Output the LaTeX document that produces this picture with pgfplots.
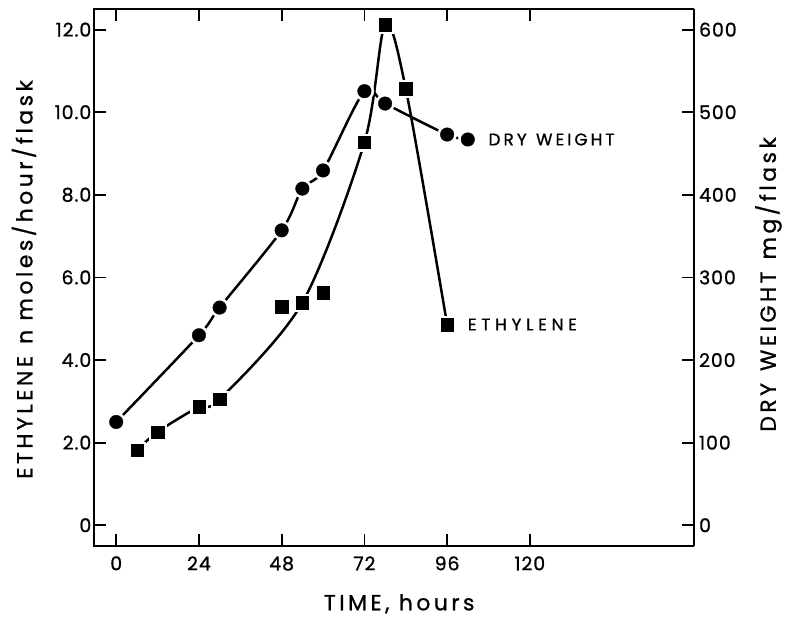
\documentclass[border=0pt]{standalone}
\usepackage{fontspec}
\setmainfont{Poppins}
\newfontfamily\lab[LetterSpace=16, FakeBold=1]{Poppins}
\newfontfamily\labdry[LetterSpace=18, FakeBold=1]{Poppins}
\newfontfamily\labeth[LetterSpace=28, FakeBold=1]{Poppins}
\newfontfamily\ticklabfont[LetterSpace=5, FakeBold=1]{Poppins}
\newcommand\wsp{\hspace{0.55em}}
\usepackage{pgfplots}
\usepackage{pgfplotstable}
\pgfplotsset{compat=1.18}

\pgfplotstableread{
t v
0 2.50
24 4.60
30 5.27
48 7.14
54 8.15
60 8.59
72 10.51
78 10.21
96 9.46
102 9.34
}\dry

\pgfplotstableread{
t v
6 1.81
12 2.26
24 2.87
30 3.05
48 5.29
54 5.39
60 5.63
72 9.27
78 12.12
84 10.57
96 4.86
}\eth

\pgfplotstableread{
t v
6 1.81
12 2.26
24 2.87
30 3.05
54 5.39
72 9.27
78 12.12
84 10.57
96 4.86
}\ethline

\begin{document}
\begin{tikzpicture}
\path (-94bp,-72bp) rectangle (691bp,547bp);
\begin{axis}[
  at={(0,0)}, anchor=south west,
  scale only axis, width=601bp, height=538bp,
  xmin=-6.5, xmax=167.5, ymin=-0.5, ymax=12.5,
  xtick={0,24,48,72,96,120},
  xtick pos=both, xticklabel pos=bottom,
  ytick={0,2,4,6,8,10,12},
  yticklabels={0,2.0,4.0,6.0,8.0,10.0,12.0},
  ytick pos=left,
  tick align=inside,
  major tick length=12bp,
  axis line style={line width=1.8bp},
  every tick/.style={line width=1.8bp, black},
  ticklabel style={font=\fontsize{19}{19}\selectfont\ticklabfont},
  /pgf/number format/assume math mode=true,
  xticklabel style={yshift=-7bp},
  yticklabel style={xshift=1bp},
  clip=false,
]
\addplot[line width=2.5bp, smooth, tension=0.5] table {\dry};
\addplot[line width=2.5bp, smooth, tension=0.5] table {\ethline};
\addplot[only marks, mark=*, mark size=9.5bp, white] table {\dry};
\addplot[only marks, mark=square*, mark size=8.5bp, white] table {\eth};
\addplot[only marks, mark=*, mark size=6.8bp, black] table {\dry};
\addplot[only marks, mark=square*, mark size=6.2bp, black] table {\eth};
\node[anchor=west, font=\fontsize{17}{17}\selectfont\labdry] at (axis cs:107.0,9.34) {DRY\wsp WEIGHT};
\node[anchor=west, font=\fontsize{17}{17}\selectfont\labeth] at (axis cs:101.0,4.86) {ETHYLENE};
\end{axis}
\begin{axis}[
  at={(0,0)}, anchor=south west,
  scale only axis, width=601bp, height=538bp,
  xmin=-6.5, xmax=167.5, ymin=-25, ymax=625,
  hide x axis, axis y line*=right,
  ytick={0,100,200,300,400,500,600},
  tick align=inside,
  major tick length=12bp,
  axis line style={line width=1.8bp},
  every tick/.style={line width=1.8bp, black},
  ticklabel style={font=\fontsize{19}{19}\selectfont\ticklabfont},
  /pgf/number format/assume math mode=true,
  yticklabel style={xshift=2bp},
]
\end{axis}
\node[rotate=90, font=\fontsize{22}{22}\selectfont\lab] at (-70bp,267bp) {ETHYLENE\wsp n moles/hour/flask};
\node[rotate=90, font=\fontsize{22}{22}\selectfont\lab] at (676bp,262bp) {DRY\wsp WEIGHT\wsp mg/flask};
\node[font=\fontsize{22}{22}\selectfont\lab] at (306bp,-58bp) {TIME, hours};
\end{tikzpicture}
\end{document}
